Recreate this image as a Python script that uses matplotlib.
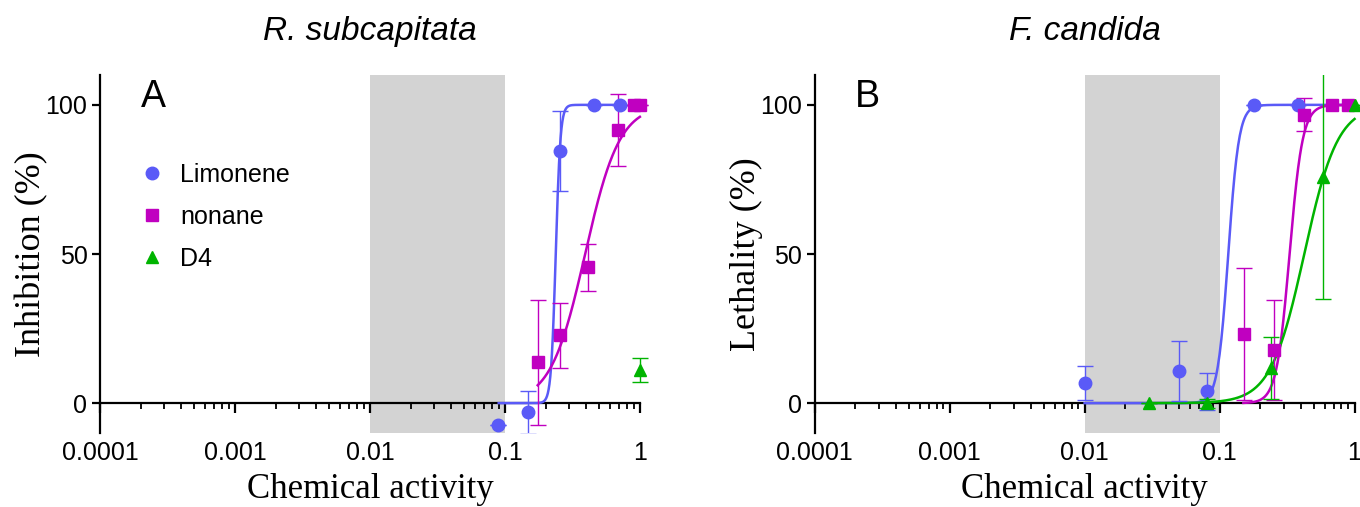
import numpy as np
import matplotlib
matplotlib.use("Agg")
import matplotlib.pyplot as plt
from matplotlib.lines import Line2D
from matplotlib.patches import Rectangle
from matplotlib.ticker import LogLocator, FixedLocator, NullFormatter

# colours
BLUE = "#5a5af7"
MAGENTA = "#c000c0"
GREEN = "#00b400"

# --- Panel A: R. subcapitata (inhibition %) ---
a_lim_x = [0.089, 0.148, 0.255, 0.456, 0.71]
a_lim_y = [-7.3, -3.0, 84.5, 100, 100]
a_lim_e = [0, 7.2, 13.5, 0, 0]

a_non_x = [0.175, 0.255, 0.41, 0.69, 0.9, 1.0]
a_non_y = [13.7, 22.7, 45.5, 91.5, 100, 100]
a_non_e = [21, 11, 8, 12, 0, 0]

a_d4_x = [1.0]
a_d4_y = [11]
a_d4_e = [4]

# fitted dose-response curves: (EC50, hill slope, x start, x end)
a_lim_fit = (0.238, 25, 0.09, 0.75)
a_non_fit = (0.393, 3.4, 0.175, 1.0)

# --- Panel B: F. candida (lethality %) ---
b_lim_x = [0.01, 0.05, 0.081, 0.18, 0.38]
b_lim_y = [6.8, 10.9, 4.0, 100, 100]
b_lim_e = [5.8, 10.1, 6.2, 0, 0]

b_non_x = [0.152, 0.254, 0.425, 0.675, 0.89]
b_non_y = [23.2, 17.8, 96.7, 100, 100]
b_non_e = [22.2, 16.7, 5.5, 0, 0]

b_d4_x = [0.03, 0.081, 0.241, 0.587, 1.0]
b_d4_y = [0, 0, 11.8, 75.7, 100]
b_d4_e = [0, 1.5, 10.5, 40.7, 0]

b_lim_fit = (0.116, 11, 0.01, 0.9)
b_non_fit = (0.33, 9, 0.15, 0.9)
b_d4_fit = (0.424, 3.5, 0.03, 1.0)

xticks = [0.0001, 0.001, 0.01, 0.1, 1]
xticklabels = ["0.0001", "0.001", "0.01", "0.1", "1"]
yticks = [0, 50, 100]

SANS = ["Liberation Sans", "DejaVu Sans"]
SERIF = ["Liberation Serif", "DejaVu Serif"]


def hill(x, ec50, h):
    return 100.0 / (1.0 + (ec50 / x) ** h)


def draw_fit(ax, fit, color):
    ec50, h, x0, x1 = fit
    xs = np.logspace(np.log10(x0), np.log10(x1), 300)
    ax.plot(xs, hill(xs, ec50, h), color=color, lw=1.8, zorder=3, clip_on=False)


def draw_points(ax, x, y, e, color, marker):
    eb = ax.errorbar(x, y, yerr=e, fmt="none", ecolor=color, elinewidth=1,
                     capsize=6, capthick=1, zorder=4)
    # clip bars at top/bottom of the plot box only, not at the right edge
    clip = Rectangle((-0.1, 0), 1.2, 1, transform=ax.transAxes)
    for art in eb.lines[1] + eb.lines[2]:
        art.set_clip_path(clip)
    ax.plot(x, y, ls="none", marker=marker, color=color, ms=9, zorder=5,
            clip_on=False)


def style_axes(ax, ylabel, title, letter):
    ax.set_xscale("log")
    ax.set_xlim(1e-4, 1)
    ax.set_ylim(-10, 110)
    ax.axvspan(0.01, 0.1, color="#d3d3d3", lw=0, zorder=0)
    for s in ["top", "right"]:
        ax.spines[s].set_visible(False)
    ax.spines["bottom"].set_position(("data", 0))
    ax.spines["bottom"].set_linewidth(1.6)
    ax.spines["left"].set_linewidth(1.6)
    ax.spines["bottom"].set_zorder(2)
    ax.xaxis.set_major_locator(FixedLocator(xticks))
    ax.set_xticklabels(xticklabels, family=SANS, fontsize=18)
    ax.xaxis.set_minor_locator(LogLocator(base=10, subs=np.arange(2, 10)))
    ax.xaxis.set_minor_formatter(NullFormatter())
    ax.tick_params(axis="x", which="major", direction="out", length=7, width=1.6, pad=20)
    ax.tick_params(axis="x", which="minor", direction="out", length=4.5, width=1.3)
    ax.set_yticks(yticks)
    ax.set_yticklabels([str(v) for v in yticks], family=SANS, fontsize=18)
    ax.tick_params(axis="y", direction="out", length=6, width=1.6, pad=3)
    ax.set_ylabel(ylabel, family=SERIF, fontsize=26, labelpad=-2)
    ax.set_xlabel("Chemical activity", family=SERIF, fontsize=25)
    ax.xaxis.set_label_coords(0.5, -0.112)
    ax.set_title(title, family=SANS, style="italic", fontsize=24, pad=25)
    ax.text(0.075, 0.99, letter, transform=ax.transAxes, family=SANS,
            fontsize=27, va="top", ha="left")


fig = plt.figure(figsize=(13.6, 5.07), dpi=100)
axA = fig.add_axes([0.0735, 0.146, 0.397, 0.706])
axB = fig.add_axes([0.599, 0.146, 0.397, 0.706])

style_axes(axA, "Inhibition (%)", "R. subcapitata", "A")
draw_fit(axA, a_lim_fit, BLUE)
draw_fit(axA, a_non_fit, MAGENTA)
draw_points(axA, a_lim_x, a_lim_y, a_lim_e, BLUE, "o")
draw_points(axA, a_non_x, a_non_y, a_non_e, MAGENTA, "s")
draw_points(axA, a_d4_x, a_d4_y, a_d4_e, GREEN, "^")

style_axes(axB, "Lethality (%)", "F. candida", "B")
draw_fit(axB, b_lim_fit, BLUE)
draw_fit(axB, b_non_fit, MAGENTA)
draw_fit(axB, b_d4_fit, GREEN)
draw_points(axB, b_lim_x, b_lim_y, b_lim_e, BLUE, "o")
draw_points(axB, b_non_x, b_non_y, b_non_e, MAGENTA, "s")
draw_points(axB, b_d4_x, b_d4_y, b_d4_e, GREEN, "^")

handles = [
    Line2D([], [], ls="none", marker="o", color=BLUE, ms=9),
    Line2D([], [], ls="none", marker="s", color=MAGENTA, ms=9),
    Line2D([], [], ls="none", marker="^", color=GREEN, ms=9),
]
axA.legend(handles, ["Limonene", "nonane", "D4"], loc="upper left",
           bbox_to_anchor=(0.074, 0.755), frameon=False, borderpad=0,
           borderaxespad=0, handlelength=1.0, handletextpad=0.6,
           labelspacing=0.72, prop={"family": SANS, "size": 18})

fig.savefig("out.png", dpi=100)
